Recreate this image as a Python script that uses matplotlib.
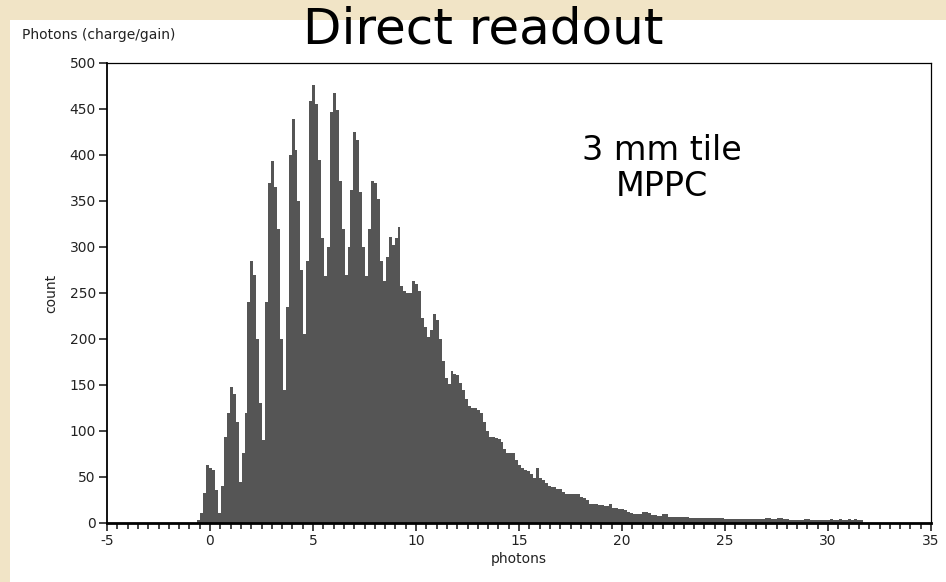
import numpy as np
import matplotlib
matplotlib.use('Agg')
import matplotlib.pyplot as plt
from matplotlib.patches import Rectangle

plt.rcParams['axes.unicode_minus'] = False

# histogram: bin width 1/7 photon, first edge at -0.61
bin_width = 1.0 / 7
first_edge = -0.61

# the four bins before the 0-photon peak
lead_in = [3, 11, 33, 63]

# one row per photon number, 7 bins each (peak bin first)
counts_by_photon = [
    [60, 58, 36, 11, 40, 94, 120],      # 0
    [148, 140, 110, 45, 76, 120, 240],  # 1
    [285, 270, 200, 130, 90, 240, 370], # 2
    [394, 365, 320, 200, 145, 235, 400],# 3
    [439, 405, 350, 275, 205, 285, 459],# 4
    [476, 455, 395, 310, 268, 300, 447],# 5
    [467, 449, 372, 320, 270, 300, 362],# 6
    [425, 416, 360, 300, 269, 320, 372],# 7
    [370, 352, 285, 263, 289, 311, 302],# 8
    [310, 322, 258, 252, 250, 250, 263],# 9
    [260, 252, 223, 213, 202, 210, 227],# 10
    [221, 200, 176, 158, 151, 165, 162],# 11
    [161, 152, 145, 135, 127, 125, 125],# 12
    [123, 120, 110, 100, 94, 94, 92],   # 13
    [91, 88, 80, 76, 76, 76, 68],       # 14
    [63, 60, 58, 57, 53, 49, 60],       # 15
    [49, 47, 44, 40, 39, 39, 37],       # 16
    [37, 34, 32, 32, 32, 31, 31],       # 17
    [28, 27, 25, 21, 21, 21, 20],       # 18
    [20, 18, 18, 21, 16, 16, 15],       # 19
    [15, 14, 12, 11, 10, 10, 10],       # 20
    [12, 12, 11, 9, 9, 8, 8],           # 21
    [10, 10, 7, 7, 7, 6, 6],            # 22
    [6, 6, 5, 5, 5, 5, 5],              # 23
    [5, 5, 5, 5, 5, 5, 5],              # 24
    [4, 4, 4, 4, 4, 4, 4],              # 25
    [4, 4, 4, 4, 4, 4, 4],              # 26
    [5, 5, 4, 4, 5, 5, 4],              # 27
    [4, 3, 3, 3, 3, 3, 4],              # 28
    [4, 3, 3, 3, 3, 3, 3],              # 29
    [3, 4, 3, 3, 4, 3, 3],              # 30
    [4, 3, 4, 3, 3, 0, 0],              # 31
]

x_ticks = [-5, 0, 5, 10, 15, 20, 25, 30, 35]
y_ticks = [0, 50, 100, 150, 200, 250, 300, 350, 400, 450, 500]

counts = np.array(lead_in + [c for row in counts_by_photon for c in row], dtype=float)
edges = first_edge + bin_width * np.arange(len(counts) + 1)

fig = plt.figure(figsize=(9.46, 5.82), dpi=100)
fig.patch.set_facecolor('#f1e4c6')
fig.patches.append(Rectangle((10 / 946, 0), 1 - 10 / 946, 562 / 582,
                             transform=fig.transFigure, facecolor='white',
                             edgecolor='none', zorder=-5))

ax = fig.add_axes([107 / 946, 1 - 523 / 582, (931 - 107) / 946, (523 - 63) / 582])
ax.stairs(counts, edges, fill=True, color='#555555', linewidth=0)

ax.set_xlim(-5, 35)
ax.set_ylim(0, 500)
ax.set_xticks(x_ticks)
ax.set_xticks(np.arange(-5, 35.01, 0.5), minor=True)
ax.set_yticks(y_ticks)
ax.tick_params(axis='both', which='major', direction='out', length=6, width=1.2,
               labelsize=10, colors='#222222', pad=2)
ax.tick_params(axis='x', which='minor', direction='out', length=4, width=1.2, colors='#222222')
for side in ['top', 'right']:
    ax.spines[side].set_linewidth(0.9)
ax.spines['left'].set_linewidth(1.3)
ax.spines['bottom'].set_linewidth(2.0)

ax.set_xlabel('photons', fontsize=10, color='#222222', labelpad=3)
ax.set_ylabel('count', fontsize=10, color='#222222', labelpad=8)

fig.text(22 / 946, 1 - 35 / 582, 'Photons (charge/gain)', fontsize=10,
         color='#222222', ha='left', va='center')
fig.text(483 / 946, 1 - 30 / 582, 'Direct readout', fontsize=36,
         color='black', ha='center', va='center')
fig.text(662 / 946, 1 - 150 / 582, '3 mm tile', fontsize=24, color='black',
         ha='center', va='center')
fig.text(662 / 946, 1 - 186 / 582, 'MPPC', fontsize=24, color='black',
         ha='center', va='center')

fig.savefig('out.png', dpi=100, facecolor=fig.get_facecolor())
